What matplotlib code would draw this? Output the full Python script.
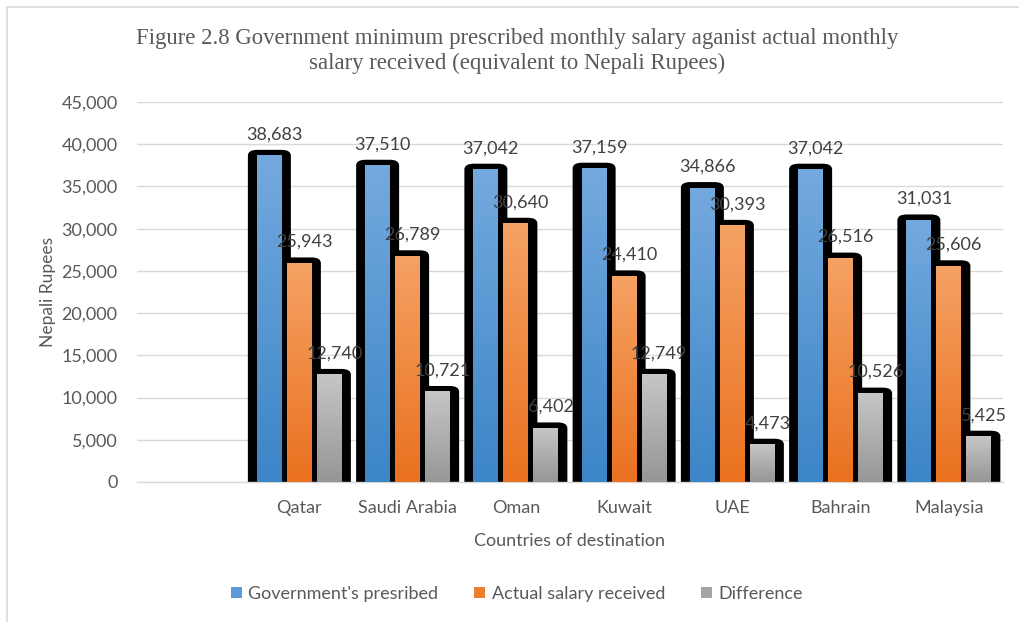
import matplotlib
matplotlib.use("Agg")
import matplotlib.pyplot as plt
import numpy as np
from matplotlib.patches import FancyBboxPatch, Rectangle, Patch
from matplotlib.colors import LinearSegmentedColormap

# ---- data -------------------------------------------------------------
categories = ["", "Qatar", "Saudi Arabia", "Oman", "Kuwait", "UAE", "Bahrain", "Malaysia"]
government = [None, 38683, 37510, 37042, 37159, 34866, 37042, 31031]
actual = [None, 25943, 26789, 30640, 24410, 30393, 26516, 25606]
difference = [None, 12740, 10721, 6402, 12749, 4473, 10526, 5425]
series_names = ["Government's presribed", "Actual salary received", "Difference"]
y_ticks = [0, 5000, 10000, 15000, 20000, 25000, 30000, 35000, 40000, 45000]

# ---- style ------------------------------------------------------------
FONT = ["Lato", "DejaVu Sans"]
plt.rcParams["font.family"] = FONT
TEXT = "#595959"
LABEL = "#404040"
GRID = "#d9d9d9"
flat_colors = ["#5b9bd5", "#ed7d31", "#a5a5a5"]
grad_colors = [("#3b85c7", "#74a9de"), ("#ea711f", "#f5a264"), ("#969696", "#c6c6c6")]
FS = 13

W, H = 1020, 622
fig = plt.figure(figsize=(W / 100, H / 100), dpi=100)
ax = fig.add_axes([137 / W, 1 - 482 / H, (1003 - 137) / W, 380 / H])

ax.set_xlim(-0.5, len(categories) - 0.5)
ax.set_ylim(0, 45000)

# pixel scale of the axes, used for shadow padding
px_x = (1003 - 137) / len(categories)          # pixels per category
px_y = 380 / 45000                             # pixels per rupee

bar_w = 25 / px_x
step = 30 / px_x
pad_x_px, pad_y_px = 9.0, 5.5
pad_x = pad_x_px / px_x
aspect = (pad_y_px / px_y) / pad_x

series = [government, actual, difference]

# black rounded backdrops first
for s_i, vals in enumerate(series):
    for c_i, v in enumerate(vals):
        if v is None:
            continue
        xc = c_i + (s_i - 1) * step
        back = FancyBboxPatch((xc - bar_w / 2, -2000), bar_w, v + 2000,
                              boxstyle=f"round,pad={pad_x},rounding_size={pad_x * 1.05}",
                              mutation_aspect=aspect, fc="black", ec="none", zorder=2)
        ax.add_patch(back)

# gradient-filled bars on top
grad = np.linspace(0, 1, 256).reshape(-1, 1)
for s_i, vals in enumerate(series):
    cmap = LinearSegmentedColormap.from_list(f"g{s_i}", list(grad_colors[s_i]))
    for c_i, v in enumerate(vals):
        if v is None:
            continue
        xc = c_i + (s_i - 1) * step
        rect = Rectangle((xc - bar_w / 2, 0), bar_w, v, fc="none", ec="none")
        ax.add_patch(rect)
        im = ax.imshow(grad, cmap=cmap, origin="lower", aspect="auto",
                       extent=(xc - bar_w / 2, xc + bar_w / 2, 0, v), zorder=3,
                       interpolation="bilinear")
        im.set_clip_path(rect)
        ax.text(xc + 5 / px_x, v + 21 / px_y, f"{v:,}", ha="center", va="center",
                fontsize=FS, color=LABEL, zorder=5)

ax.set_xlim(-0.5, len(categories) - 0.5)
ax.set_ylim(0, 45000)

# axes styling
ax.set_yticks(y_ticks)
ax.set_yticklabels([f"{t:,}" for t in y_ticks])
ax.set_xticks(range(len(categories)))
ax.set_xticklabels(categories)
ax.tick_params(axis="both", length=0, labelsize=FS, colors=TEXT)
ax.tick_params(axis="y", pad=14)
ax.tick_params(axis="x", pad=13)
ax.yaxis.grid(True, color=GRID, lw=1)
ax.set_axisbelow(True)
for side in ["left", "right", "top"]:
    ax.spines[side].set_visible(False)
ax.spines["bottom"].set_color(GRID)
ax.spines["bottom"].set_linewidth(1)

ax.set_ylabel("Nepali Rupees", fontsize=12.5, color=TEXT, labelpad=4)
ax.set_xlabel("Countries of destination", fontsize=FS, color=TEXT, labelpad=12)

fig.text(517 / W, 1 - 51 / H,
         "Figure 2.8 Government minimum prescribed monthly salary aganist actual monthly\n"
         "salary received (equivalent to Nepali Rupees)",
         ha="center", va="center", fontsize=16.4, color=TEXT,
         family=["Liberation Serif", "DejaVu Serif"], linespacing=1.2)

handles = [Patch(fc=c, ec="none") for c in flat_colors]
fig.legend(handles, series_names, loc="center", bbox_to_anchor=(517 / W, 1 - 594 / H),
           ncol=3, frameon=False, fontsize=FS, labelcolor=TEXT,
           handlelength=0.6, handleheight=0.6, handletextpad=0.35, columnspacing=2.0)

# chart frame
fig.patches.append(Rectangle((7 / W, -0.01), 1.05, 1 - 7 / H + 0.01, transform=fig.transFigure,
                             fill=False, ec="#d9d9d9", lw=1.2, zorder=0))

fig.savefig("out.png", dpi=100)
